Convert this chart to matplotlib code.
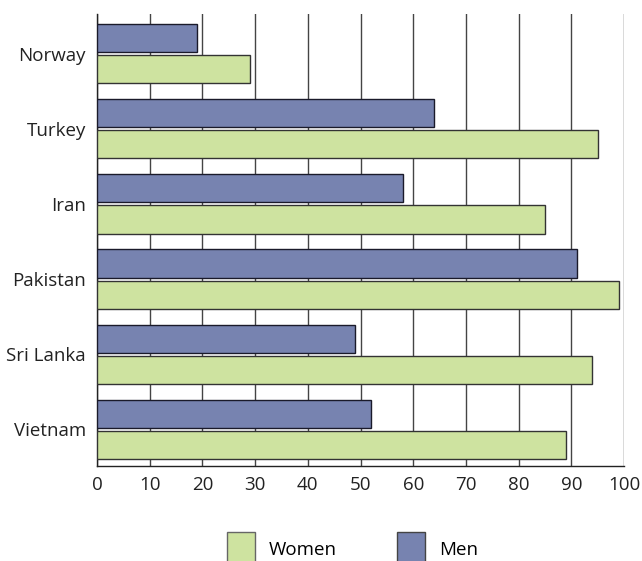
import matplotlib
matplotlib.use("Agg")
import matplotlib.pyplot as plt
import numpy as np
from matplotlib.patches import Patch

plt.rcParams['font.family'] = ['Open Sans', 'DejaVu Sans']

countries = ["Norway", "Turkey", "Iran", "Pakistan", "Sri Lanka", "Vietnam"]
men = [19, 64, 58, 91, 49, 52]
women = [29, 95, 85, 99, 94, 89]

men_color = "#7783B0"
women_color = "#CEE3A0"

fig = plt.figure(figsize=(6.42, 5.61), dpi=100)
ax = fig.add_axes([97 / 642, 1 - 466 / 561, (624 - 97) / 642, (466 - 14) / 561])

y = np.arange(len(countries))
h = 0.373
ax.barh(y - 0.207, men, height=h, color=men_color, edgecolor="#1a1a2a", linewidth=1.0, zorder=3)
ax.barh(y + 0.207, women, height=h, color=women_color, edgecolor="#333333", linewidth=1.0, zorder=3)

ax.set_xlim(0, 100)
ax.set_ylim(len(countries) - 0.51, -0.53)
ax.set_xticks(np.arange(0, 101, 10))
ax.set_yticks(y)
ax.set_yticklabels(countries)
ax.tick_params(axis="both", length=0, labelsize=13.5, colors="#222222")
ax.tick_params(axis="x", pad=7)
ax.tick_params(axis="y", pad=8)

# vertical grid lines through the whole plot area
ax.xaxis.grid(True, color="#444444", linewidth=1.0, zorder=0)
ax.set_axisbelow(True)
ax.spines["top"].set_visible(False)
ax.spines["right"].set_visible(False)
for s in ("left", "bottom"):
    ax.spines[s].set_color("#222222")
    ax.spines[s].set_linewidth(1.0)

handles = [Patch(facecolor=women_color, edgecolor="#666666", linewidth=1.0),
           Patch(facecolor=men_color, edgecolor="#444444", linewidth=1.0)]
fig.legend(handles, ["Women", "Men"], loc="upper left",
           bbox_to_anchor=(227 / 642, 1 - 532 / 561), ncol=2, frameon=False,
           fontsize=13.5, handlelength=1.5, handleheight=2.4, handletextpad=0.75,
           columnspacing=3.2, borderpad=0, borderaxespad=0)

fig.savefig("out.png", dpi=100)
